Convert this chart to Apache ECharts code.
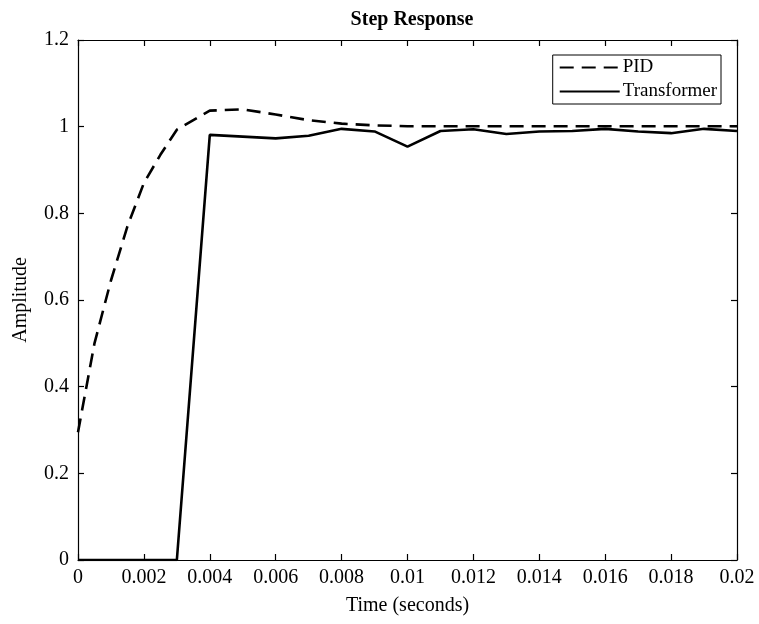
<!DOCTYPE html>
<html>
<head>
<meta charset="utf-8">
<script src="https://cdn.jsdelivr.net/npm/echarts@6/dist/echarts.min.js"></script>
<style>html,body{margin:0;padding:0;background:#fff}#c{width:759px;height:624px}</style>
</head>
<body>
<div id="c"></div>
<script>
var pidTime = [0, 0.0005, 0.001, 0.0015, 0.002, 0.0025, 0.003, 0.004, 0.005, 0.006, 0.007, 0.008, 0.009, 0.010, 0.011, 0.012, 0.013, 0.014, 0.015, 0.016, 0.017, 0.018, 0.019, 0.020];
var pidValues = [0.295, 0.50, 0.645, 0.77, 0.87, 0.935, 0.993, 1.037, 1.040, 1.028, 1.015, 1.007, 1.003, 1.001, 1.001, 1.001, 1.001, 1.001, 1.001, 1.001, 1.001, 1.001, 1.001, 1.001];
var trTime = [0, 0.001, 0.002, 0.003, 0.004, 0.005, 0.006, 0.007, 0.008, 0.009, 0.010, 0.011, 0.012, 0.013, 0.014, 0.015, 0.016, 0.017, 0.018, 0.019, 0.020];
var trValues = [0, 0, 0, 0, 0.981, 0.977, 0.973, 0.979, 0.995, 0.989, 0.954, 0.990, 0.994, 0.983, 0.989, 0.990, 0.995, 0.989, 0.985, 0.995, 0.990];
var seriesNames = ['PID', 'Transformer'];
var chartTitle = 'Step Response';
var xTitle = 'Time (seconds)';
var yTitle = 'Amplitude';

function pairs(xs, ys) { return xs.map(function (x, i) { return [x, ys[i]]; }); }

var FONT = '"Liberation Serif", "Times New Roman", serif';
var chart = echarts.init(document.getElementById('c'), null, { renderer: 'canvas' });
var axisCommon = {
  axisLine: { show: true, onZero: false, lineStyle: { color: '#000', width: 1.2 } },
  axisTick: { show: true, inside: true, length: 6, lineStyle: { color: '#000', width: 1.2 } },
  splitLine: { show: false }
};
chart.setOption({
  animation: false,
  backgroundColor: '#fff',
  title: {
    text: chartTitle, left: 407, top: 5, textAlign: 'center',
    textStyle: { fontFamily: FONT, fontSize: 20, fontWeight: 'bold', color: '#000' }
  },
  grid: { left: 78, right: 22, top: 40, bottom: 64, containLabel: false },
  legend: {
    orient: 'vertical', right: 38, top: 55,
    data: seriesNames,
    borderColor: '#000', borderWidth: 1, backgroundColor: '#fff',
    padding: [3, 4, 3, 6], itemGap: 5, itemWidth: 60, itemHeight: 14,
    itemStyle: { opacity: 0 },
    textStyle: { fontFamily: FONT, fontSize: 19, color: '#000', padding: [0, 0, 0, -2] }
  },
  xAxis: [
    Object.assign({
      type: 'value', min: 0, max: 0.02, interval: 0.002, position: 'bottom',
      name: xTitle, nameLocation: 'middle', nameGap: 36,
      nameTextStyle: { fontFamily: FONT, fontSize: 20, color: '#000' },
      axisLabel: { fontFamily: FONT, fontSize: 20, color: '#000', margin: 8 }
    }, axisCommon),
    Object.assign({
      type: 'value', min: 0, max: 0.02, interval: 0.002, position: 'top',
      axisLabel: { show: false }
    }, axisCommon)
  ],
  yAxis: [
    Object.assign({
      type: 'value', min: 0, max: 1.2, interval: 0.2, position: 'left',
      name: yTitle, nameLocation: 'middle', nameGap: 47, nameRotate: 90,
      nameTextStyle: { fontFamily: FONT, fontSize: 20, color: '#000' },
      axisLabel: { fontFamily: FONT, fontSize: 20, color: '#000', margin: 9 }
    }, axisCommon),
    Object.assign({
      type: 'value', min: 0, max: 1.2, interval: 0.2, position: 'right',
      axisLabel: { show: false }
    }, axisCommon)
  ],
  series: [
    {
      name: seriesNames[0], type: 'line', data: pairs(pidTime, pidValues),
      symbol: 'none', xAxisIndex: 0, yAxisIndex: 0,
      lineStyle: { color: '#000', width: 2.6, type: [14, 8] },
      itemStyle: { color: '#000' }
    },
    {
      name: seriesNames[1], type: 'line', data: pairs(trTime, trValues),
      symbol: 'none', xAxisIndex: 0, yAxisIndex: 0,
      lineStyle: { color: '#000', width: 2.6, type: 'solid' },
      itemStyle: { color: '#000' }
    }
  ]
});
</script>
</body>
</html>
